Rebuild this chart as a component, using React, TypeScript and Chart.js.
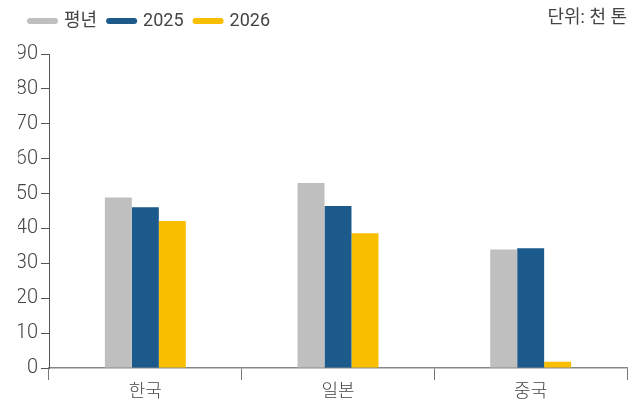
import React, { useEffect, useRef } from "react";
import { Chart, registerables } from "chart.js";

Chart.register(...registerables);

const categories = ["한국", "일본", "중국"];
const seriesNames = ["평년", "2025", "2026"];
const normalValues = [48.9, 53.0, 34.0];
const values2025 = [46.1, 46.4, 34.3];
const values2026 = [42.1, 38.6, 1.8];
const seriesColors = ["#BFBFBF", "#1C5A8B", "#F9BE00"];
const yTicksMax = 90;
const unitLabel = "단위: 천 톤";

const FONT = "Roboto, 'Noto Sans CJK KR', sans-serif";

const unitPlugin = {
  id: "unitLabel",
  beforeInit(chart: any) {
    const legend = chart.legend;
    if (legend) {
      const origFit = legend.fit;
      legend.fit = function () {
        origFit.call(this);
        this.height += 14;
      };
    }
  },
  afterDraw(chart: any) {
    const ctx = chart.ctx;
    ctx.save();
    ctx.font = `400 18px ${FONT}`;
    ctx.fillStyle = "#444";
    ctx.textAlign = "right";
    ctx.textBaseline = "middle";
    ctx.fillText(unitLabel, chart.width - 13, 18);
    ctx.restore();
  },
};

export default function App() {
  const ref = useRef<HTMLCanvasElement>(null);
  useEffect(() => {
    document.body.style.margin = "0";
    const allValues = [normalValues, values2025, values2026];
    const chart = new Chart(ref.current as HTMLCanvasElement, {
      type: "bar",
      data: {
        labels: categories,
        datasets: seriesNames.map((name, i) => ({
          label: name,
          data: allValues[i],
          backgroundColor: seriesColors[i],
          borderColor: seriesColors[i],
          borderWidth: 0,
          categoryPercentage: 0.42,
          barPercentage: 1.0,
        })),
      },
      options: {
        animation: false,
        responsive: false,
        maintainAspectRatio: false,
        layout: { padding: { left: 18, right: 13, top: 0, bottom: 0 } },
        plugins: {
          tooltip: { enabled: false },
          legend: {
            display: true,
            position: "top",
            align: "start",
            labels: {
              usePointStyle: true,
              pointStyleWidth: 25,
              padding: 12,
              color: "#444",
              font: { family: FONT, size: 18, weight: "400" },
              generateLabels: (chart: any) =>
                chart.data.datasets.map((ds: any, i: number) => ({
                  text: ds.label,
                  fillStyle: ds.backgroundColor,
                  strokeStyle: ds.backgroundColor,
                  fontColor: "#444",
                  lineWidth: 6,
                  lineCap: "round",
                  pointStyle: "line",
                  hidden: false,
                  datasetIndex: i,
                })),
            },
          },
        },
        scales: {
          x: {
            afterFit: (scale: any) => {
              scale.height = 35;
            },
            grid: {
              display: true,
              drawOnChartArea: false,
              drawTicks: true,
              tickLength: 12,
              offset: true,
              color: "#777",
            },
            border: { display: true, color: "#888", width: 1.5 },
            ticks: {
              color: "#444",
              font: { family: FONT, size: 18, weight: "300" },
              padding: 2,
            },
          },
          y: {
            min: 0,
            max: yTicksMax,
            afterFit: (scale: any) => {
              scale.width = 31;
            },
            grid: {
              display: true,
              drawOnChartArea: false,
              drawTicks: true,
              tickLength: 8,
              color: "#555",
            },
            border: { display: true, color: "#555", width: 1 },
            ticks: {
              stepSize: 10,
              color: "#444",
              font: { family: FONT, size: 20, weight: "300" },
              padding: 3,
            },
          },
        },
      },
      plugins: [unitPlugin],
    } as any);
    return () => chart.destroy();
  }, []);
  return (
    <div style={{ width: 640, height: 403 }}>
      <canvas ref={ref} width={640} height={403} style={{ width: 640, height: 403 }} />
    </div>
  );
}
